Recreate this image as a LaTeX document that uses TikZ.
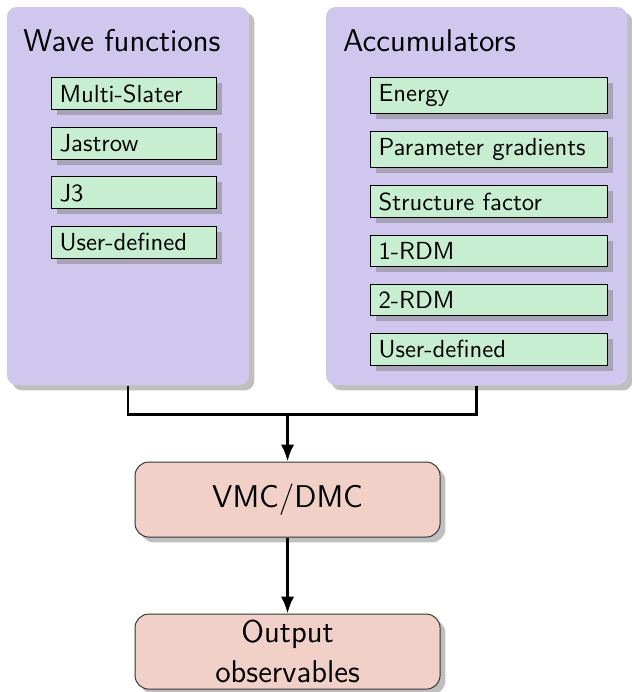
\documentclass[tikz,border=0pt]{standalone}
\usetikzlibrary{positioning,shadows,arrows.meta}
\renewcommand{\familydefault}{\sfdefault}
\definecolor{grouppurple}{RGB}{207,199,238}
\definecolor{itemgreen}{RGB}{199,238,209}
\definecolor{runpink}{RGB}{241,208,200}
\newcommand{\bigsf}{\fontsize{13}{16.5}\selectfont}
\begin{document}
\begin{tikzpicture}[
   group/.style={fill=grouppurple,rounded corners=4pt,drop shadow,minimum height=5.49cm,inner sep=0pt},
   item/.style={draw,fill=itemgreen,drop shadow,align=left,anchor=north west,inner ysep=2.95pt,font=\fontsize{10.2}{12}\selectfont},
   run/.style={draw=black!80,fill=runpink,rounded corners=2mm,drop shadow,minimum width=4.43cm,minimum height=1.09cm,inner sep=2pt,font=\bigsf,align=center},
   grouptitle/.style={anchor=base west,font=\bigsf,inner sep=0pt},
   flow/.style={very thick,-{Latex[length=7pt,width=5.5pt]}},
   node distance=0.24cm]
  \useasboundingbox (0,0) rectangle (9.165,-10.05);
  % the two groups
  \node[group,minimum width=3.514cm] (wf)  at (1.859,-2.847) {};
  \node[group,minimum width=4.372cm] (acc) at (6.921,-2.847) {};
  \node[grouptitle] (wftitle)  at (0.334,-0.755) {Wave functions};
  \node[grouptitle] (acctitle) at (4.977,-0.755) {Accumulators};
  % wave functions
  \node[item,text width=2.16cm] (slater) at (0.741,-1.118) {Multi-Slater};
  \node[item,text width=2.16cm,below=of slater] (jastrow) {Jastrow};
  \node[item,text width=2.16cm,below=of jastrow] (jthree) {J3};
  \node[item,text width=2.16cm,below=of jthree] (wfuser) {User-defined};
  % accumulators
  \node[item,text width=3.207cm] (energy) at (5.374,-1.118) {Energy};
  \node[item,text width=3.207cm,below=of energy] (grad) {Parameter gradients};
  \node[item,text width=3.207cm,below=of grad] (sfac) {Structure factor};
  \node[item,text width=3.207cm,below=of sfac] (rdmone) {1-RDM};
  \node[item,text width=3.207cm,below=of rdmone] (rdmtwo) {2-RDM};
  \node[item,text width=3.207cm,below=of rdmtwo] (accuser) {User-defined};
  % driver and output
  \node[run] (vmc) at (4.176,-7.255) {VMC/DMC};
  \node[run,below=1.104cm of vmc] (out) {Output\\observables};
  \coordinate[above=0.683cm of vmc] (join);
  \draw[very thick] (wf.south) |- (join) -| (acc.south);
  \draw[flow] (join) -- (vmc);
  \draw[flow] (vmc) -- (out);
\end{tikzpicture}
\end{document}
